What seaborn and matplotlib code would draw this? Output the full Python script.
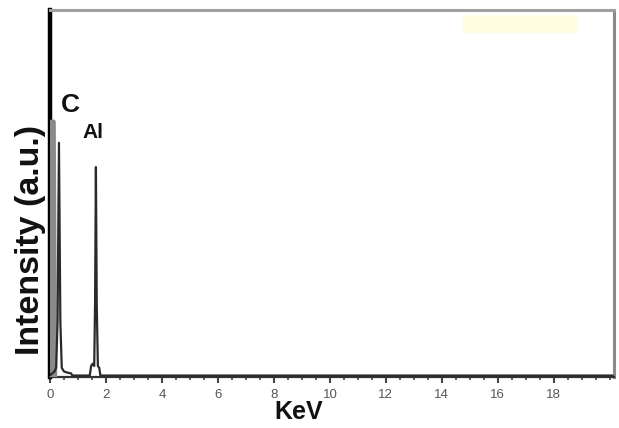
import matplotlib
matplotlib.use('Agg')
import matplotlib.pyplot as plt
from matplotlib.patches import Rectangle
from matplotlib.ticker import MultipleLocator
import seaborn as sns

# spectrum values (keV, a.u. 0-100)
energy = [0.00, 0.16, 0.22, 0.27, 0.32, 0.37, 0.42, 0.50, 0.62, 0.75, 0.80,
          1.42, 1.47, 1.52, 1.58, 1.61, 1.64, 1.67, 1.71, 1.76, 1.80, 2.40, 20.1]
intensity = [0.5, 1.5, 2.5, 15, 63.8, 15, 2.5, 1.5, 1.2, 1.0, 0.4,
             0.4, 3.0, 3.6, 3.0, 20, 57.2, 20, 3.0, 2.5, 0.4, 0.4, 0.4]

# broad grey peak at zero energy
zero_energy = [0.02, 0.06, 0.12, 0.17]
zero_intensity = [0.0, 69.5, 69.5, 0.0]

peak_labels = ['C', 'Al']
peak_label_x = [0.72, 1.52]
peak_label_y = [74, 66.5]
peak_label_size = [19, 15]

xticks = list(range(0, 20, 2))

sns.set_theme(style='white')
plt.rcParams['font.family'] = ['Liberation Sans', 'DejaVu Sans']

fig = plt.figure(figsize=(6.19, 4.28), dpi=100)
ax = fig.add_axes([50 / 619, 51 / 428, 564 / 619, 367 / 428])

sns.lineplot(x=zero_energy, y=zero_intensity, ax=ax, sort=False, estimator=None,
             color='#8a8a8a', linewidth=3.5, zorder=4)
sns.lineplot(x=energy, y=intensity, ax=ax, sort=False, estimator=None,
             color='#2a2a2a', linewidth=1.6, zorder=5)

ax.set_xlim(0, 20.15)
ax.set_ylim(0, 100)
ax.set_xticks(xticks)
ax.xaxis.set_minor_locator(MultipleLocator(0.5))
ax.set_yticks([])
ax.set_xlabel('')
ax.set_ylabel('')
ax.tick_params(axis='x', which='major', direction='out', length=4, width=1.5,
               colors='#444444', labelsize=9.5, pad=5, bottom=True)
ax.tick_params(axis='x', which='minor', direction='out', length=2.5, width=1.3,
               colors='#555555', bottom=True)
for lab in ax.get_xticklabels():
    lab.set_color('#555555')

ax.spines['left'].set_color('black')
ax.spines['left'].set_linewidth(3.2)
ax.spines['bottom'].set_color('#333333')
ax.spines['bottom'].set_linewidth(1.6)
ax.spines['top'].set_color('#a0a0a0')
ax.spines['top'].set_linewidth(2.2)
ax.spines['right'].set_color('#8a8a8a')
ax.spines['right'].set_linewidth(2.2)

for lab, px, py, fs in zip(peak_labels, peak_label_x, peak_label_y, peak_label_size):
    ax.text(px, py, lab, ha='center', va='center', fontsize=fs,
            fontweight='bold', color='#111111')

fig.text(31 / 619, 1 - 240 / 428, 'Intensity (a.u.)', rotation=90,
         ha='center', va='center', fontsize=24.5, fontweight='bold', color='#111111')
fig.text(299 / 619, 1 - 412 / 428, 'KeV', ha='center', va='center',
         fontsize=18, fontweight='bold', color='#111111')

fig.patches.append(Rectangle((463 / 619, 1 - 33 / 428), 114 / 619, 18 / 428,
                             transform=fig.transFigure, facecolor='#fffde0',
                             edgecolor='none'))

fig.savefig('out.png', dpi=100)
